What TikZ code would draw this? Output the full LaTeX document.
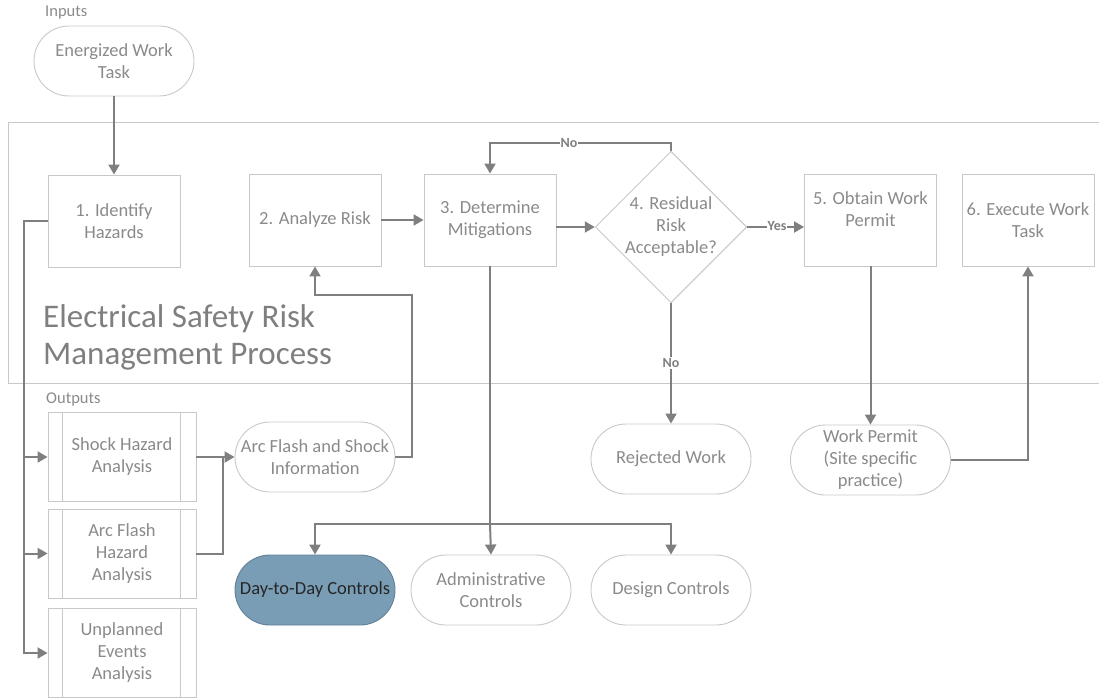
\documentclass[tikz,border=0pt]{standalone}
\usepackage{fontspec}
\setmainfont{Carlito}
\usetikzlibrary{arrows.meta,shapes.geometric,shapes.misc,calc}
\definecolor{linegray}{HTML}{7F7F7F}
\definecolor{bordergray}{HTML}{C8C8C8}
\definecolor{textgray}{HTML}{8A8A8A}
\definecolor{dayfill}{HTML}{7A9DB6}
\definecolor{dayborder}{HTML}{5F7F97}
\tikzset{
  base/.style={draw=bordergray, line width=0.9pt, text=textgray, align=center, inner sep=0pt,
    font=\fontsize{18.5}{22}\selectfont},
  procbox/.style={base, rectangle, minimum width=132pt, minimum height=92pt},
  stadium/.style={base, rounded rectangle, minimum width=160pt, minimum height=70pt},
  dia/.style={base, diamond, minimum width=145pt, minimum height=150pt},
  outbox/.style={base, rectangle, minimum width=148pt, minimum height=89pt},
  conn/.style={draw=linegray, line width=2pt, -{Triangle[length=10pt,width=11pt]}},
  plain/.style={draw=linegray, line width=2pt},
  lbl/.style={text=linegray, font=\bfseries\fontsize{14}{15}\selectfont, fill=white, inner sep=1pt},
  smalllbl/.style={text=textgray, font=\fontsize{16.5}{18}\selectfont, inner sep=0pt, anchor=west},
}
\begin{document}
\begin{tikzpicture}[x=1pt,y=-1pt]
\useasboundingbox (0,0) rectangle (1099,698);
% process region
\draw[bordergray, line width=0.9pt] (1100,122) -- (8,122) -- (8,383) -- (1100,383);
\node[smalllbl] (inlbl) at (45,13) {Inputs};
\node[smalllbl] (outlbl) at (46,399) {Outputs};
\node[text=linegray, align=left, anchor=north west, inner sep=0pt,
  font=\fontsize{33}{37}\selectfont] (title) at (43,304) {Electrical Safety Risk\\Management Process};

\node[stadium] (ewt) at (114,61) {Energized Work\\Task};
\node[procbox] (b1) at (114,221) {1. Identify\\Hazards};
\node[procbox] (b2) at (315,220) {2. Analyze Risk};
\node[procbox] (b3) at (490,220) {3. Determine\\Mitigations};
\node[dia] (d4) at (671,227) {4. Residual\\Risk\\Acceptable?};
\node[procbox] (b5) at (870.5,220) {};
\node[base, draw=none, anchor=center] (b5t) at (870.5,209) {5. Obtain Work\\Permit};
\node[procbox] (b6) at (1028,220) {6. Execute Work\\Task};

\node[outbox] (sha) at (122,457) {Shock Hazard\\Analysis};
\node[outbox] (afha) at (122,553.5) {Arc Flash\\Hazard\\Analysis};
\node[outbox] (uea) at (122,653) {Unplanned\\Events\\Analysis};
\foreach \n in {sha,afha,uea}{
  \draw[bordergray, line width=0.9pt] ($(\n.north west)+(15,0)$) -- ($(\n.south west)+(15,0)$);
  \draw[bordergray, line width=0.9pt] ($(\n.north east)+(-16,0)$) -- ($(\n.south east)+(-16,0)$);
}
\node[stadium] (afsi) at (315,457) {Arc Flash and Shock\\Information};
\node[stadium] (rej) at (671,459) {Rejected Work};
\node[stadium] (wp) at (870.5,460) {Work Permit\\(Site specific\\practice)};
\node[stadium, fill=dayfill, draw=dayborder, text=black!85] (ddc) at (315,590) {Day-to-Day Controls};
\node[stadium] (adm) at (491,590) {Administrative\\Controls};
\node[stadium] (des) at (671,590) {Design Controls};

% connectors
\draw[conn] (ewt.south) -- (b1.north);
\draw[plain] (b1.west) -- (24,221) -- (24,457);
\draw[conn] (24,457) -- (sha.west);
\draw[conn] (24,457) -- (24,553.5) -- (afha.west);
\draw[conn] (24,553.5) -- (24,653) -- (uea.west);
\draw[conn] (sha.east) -- (afsi.west);
\draw[plain] (afha.east) -- (223,553.5) -- (223,457);
\draw[conn] (afsi.east) -- (412,457) -- (412,295) -- (315,295) -- (b2.south);
\draw[conn] (b2.east) -- (b3.west);
\draw[conn] (b3.east |- d4.west) -- (d4.west);
\draw[conn] (d4.north) -- (671,143) -- (490,143) -- (b3.north);
\node[lbl] (nolbl1) at (569,143) {No};
\draw[conn] (d4.east) -- (b5.west |- d4.east);
\node[lbl] (yeslbl) at (777,226) {Yes};
\draw[conn] (d4.south) -- (rej.north);
\node[lbl] (nolbl2) at (671,363) {No};
\draw[conn] (b5.south) -- (wp.north);
\draw[conn] (wp.east) -- (1028,460) -- (b6.south);
\draw[plain] (b3.south) -- (490,524);
\draw[conn] (490,524) -- (315,524) -- (ddc.north);
\draw[conn] (490,524) -- (adm.north);
\draw[conn] (490,524) -- (671,524) -- (des.north);
\end{tikzpicture}
\end{document}
